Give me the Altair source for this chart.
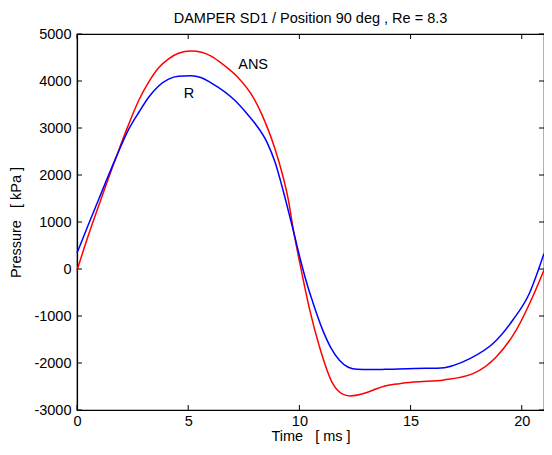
import altair as alt
import pandas as pd

# ---- data ----
ans_t = [0.0, 0.5, 1.0, 1.77, 2.3, 2.79, 3.23, 3.67, 4.12, 4.56, 5.13, 5.6, 6.03, 6.6, 7.21, 7.95,
         8.3, 8.6, 8.9, 9.2, 9.5, 9.72, 10.1, 10.46, 10.9, 11.49, 11.9, 12.3, 12.96, 13.4, 13.85,
         14.5, 15.18, 16.5, 17.83, 18.86, 19.75, 20.49, 21.0]
ans_p = [-30, 700, 1380, 2390, 3050, 3600, 3980, 4280, 4470, 4590, 4640, 4610, 4530, 4340, 4090, 3630,
         3300, 2960, 2560, 2080, 1480, 860, -60, -860, -1650, -2430, -2650, -2700, -2640, -2560, -2490,
         -2440, -2405, -2360, -2220, -1865, -1300, -590, -20]

r_t = [0.0, 0.5, 1.0, 1.77, 2.3, 2.79, 3.23, 3.67, 4.12, 4.56, 5.1, 5.6, 6.03, 7.07, 7.6, 8.0,
       8.54, 8.9, 9.28, 9.72, 10.1, 10.35, 10.6, 11.05, 11.4, 11.8, 12.2, 12.6, 13.2, 13.85,
       15.18, 16.2, 17.69, 18.72, 19.6, 20.34, 21.0]
r_p = [340, 930, 1510, 2390, 2950, 3340, 3660, 3894, 4040, 4100, 4110, 4070, 3960, 3600, 3330, 3100,
       2700, 2280, 1650, 830, 100, -330, -700, -1300, -1660, -1940, -2090, -2135, -2140, -2135,
       -2115, -2113, -1900, -1580, -1085, -520, 330]

series_names = ["ANS", "R"]
series_colors = ["#ff0000", "#0000ff"]

label_text = ["ANS", "R"]
label_t = [7.92, 5.04]
label_p = [4340, 3730]

x_ticks = [0, 5, 10, 15, 20]
y_ticks = [-3000, -2000, -1000, 0, 1000, 2000, 3000, 4000, 5000]

W, H = 467, 376
FONT = "Liberation Sans"

lines_df = pd.concat([
    pd.DataFrame({"t": ans_t, "p": ans_p, "s": "ANS"}),
    pd.DataFrame({"t": r_t, "p": r_p, "s": "R"}),
])
labels_df = pd.DataFrame({"t": label_t, "p": label_p, "txt": label_text})
xt_df = pd.DataFrame({"t": x_ticks})
yt_df = pd.DataFrame({"p": y_ticks})

xs = alt.Scale(domain=[0, 21], nice=False, zero=False)
ys = alt.Scale(domain=[-3000, 5000], nice=False, zero=False)

axis_style = dict(ticks=False, grid=False, labelExpr="'' + datum.value", labelFlush=False,
                  labelFont=FONT, titleFont=FONT, labelFontSize=14.5, titleFontSize=14.5,
                  labelColor="black", titleColor="black", titleFontWeight="normal",
                  domainColor="black", domainWidth=1.2)
xaxis = alt.Axis(values=x_ticks, labelPadding=4, titlePadding=2, **axis_style)
yaxis = alt.Axis(values=y_ticks, labelPadding=6, titlePadding=10, **axis_style)
XT = "Time\u00a0\u00a0\u00a0[ ms ]"
YT = "Pressure\u00a0\u00a0\u00a0[ kPa ]"


def X(field="t"):
    return alt.X(f"{field}:Q", scale=xs, axis=xaxis, title=XT)


def Y(field="p"):
    return alt.Y(f"{field}:Q", scale=ys, axis=yaxis, title=YT)


lines = alt.Chart(lines_df).mark_line(strokeWidth=1.5, interpolate="monotone").encode(
    x=X(), y=Y(),
    color=alt.Color("s:N", scale=alt.Scale(domain=series_names, range=series_colors), legend=None),
    detail="s:N",
)

texts = alt.Chart(labels_df).mark_text(fontSize=14.5, font=FONT, color="black",
                                        align="center", baseline="middle").encode(
    x=X(), y=Y(), text="txt:N",
)

tick_style = dict(color="black", strokeWidth=1)
xb = alt.Chart(xt_df).mark_rule(**tick_style).encode(x=X(), y=alt.value(H), y2=alt.value(H - 5))
xtp = alt.Chart(xt_df).mark_rule(**tick_style).encode(x=X(), y=alt.value(0), y2=alt.value(5))
yl = alt.Chart(yt_df).mark_rule(**tick_style).encode(y=Y(), x=alt.value(0), x2=alt.value(5))
yr = alt.Chart(yt_df).mark_rule(**tick_style).encode(y=Y(), x=alt.value(W), x2=alt.value(W - 5))

chart = alt.layer(lines, texts, xb, xtp, yl, yr).properties(
    width=W, height=H,
    title=alt.TitleParams("DAMPER SD1 / Position 90 deg , Re = 8.3", fontSize=14.5,
                          font=FONT, fontWeight="normal", color="black", offset=0,
                          frame="group", anchor="middle"),
    autosize=alt.AutoSizeParams(type="none"),
    padding={"left": 69, "top": 26, "right": 0, "bottom": 37},
    background="white",
).configure_view(stroke="black", strokeWidth=1.2)

chart.save("out.html", embed_options={"renderer": "svg", "actions": False})
